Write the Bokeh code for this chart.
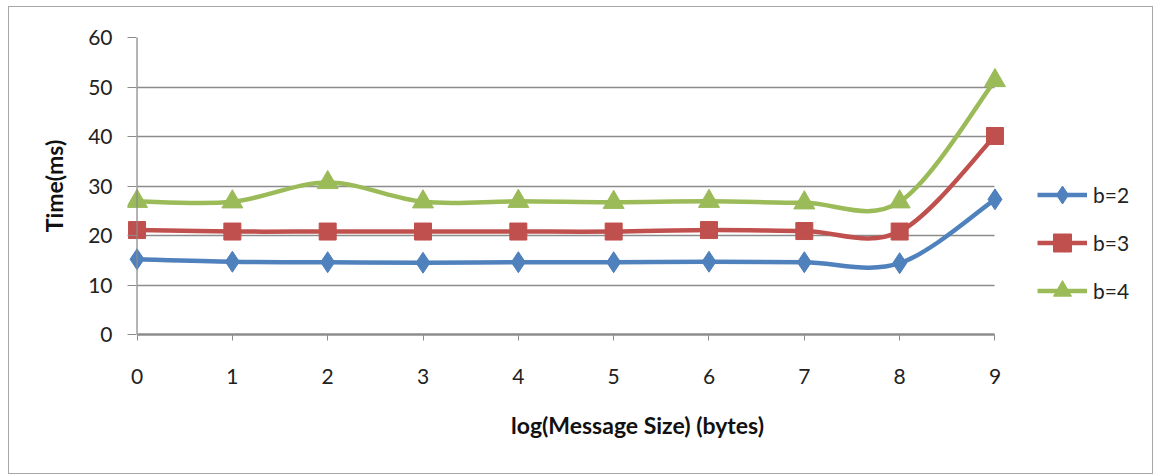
import numpy as np
from bokeh.plotting import figure
from bokeh.models import Range1d, FixedTicker, Legend, LegendItem, Span, Title
from bokeh.embed import file_html
from bokeh.resources import INLINE

# Message size exponent (x) and measured times in ms for each b
sizes = [0, 1, 2, 3, 4, 5, 6, 7, 8, 9]
b2 = [15.2, 14.7, 14.6, 14.5, 14.6, 14.6, 14.7, 14.6, 14.4, 27.3]
b3 = [21.1, 20.8, 20.8, 20.8, 20.8, 20.8, 21.1, 20.9, 20.8, 40.1]
b4 = [26.9, 26.8, 30.7, 26.8, 26.9, 26.7, 26.9, 26.6, 26.8, 51.3]
series_names = ["b=2", "b=3", "b=4"]
colors = ["#4F81BD", "#C0504D", "#9BBB59"]
markers = ["diamond", "square", "triangle"]
marker_sizes = [21, 17, 21]
y_ticks = [0, 10, 20, 30, 40, 50, 60]

FONT = "Lato"
GRID = "#8C8C8C"
PAD_LEFT = 0.1     # room for the first markers left of the y axis
RANGE_END = 10.6   # frame continues to the right so the legend sits inside it


def smooth_segments(xs, ys):
    """Cubic Bezier segments through the points (Catmull-Rom style smoothing)."""
    x = np.asarray(xs, dtype=float)
    y = np.asarray(ys, dtype=float)
    n = len(x)
    xp = np.concatenate([[x[0]], x, [x[-1]]])
    yp = np.concatenate([[y[0]], y, [y[-1]]])
    i = np.arange(n - 1)
    cx0 = x[i] + (xp[i + 2] - xp[i]) / 6.0
    cy0 = y[i] + (yp[i + 2] - yp[i]) / 6.0
    cx1 = x[i + 1] - (xp[i + 3] - xp[i + 1]) / 6.0
    cy1 = y[i + 1] - (yp[i + 3] - yp[i + 1]) / 6.0
    return dict(x0=x[i], y0=y[i], x1=x[i + 1], y1=y[i + 1],
                cx0=cx0, cy0=cy0, cx1=cx1, cy1=cy1)


p = figure(width=1145, height=468, output_backend="svg", toolbar_location=None,
           x_range=Range1d(sizes[0] - PAD_LEFT, RANGE_END),
           y_range=Range1d(y_ticks[0], y_ticks[-1]),
           min_border_left=118, min_border_right=7,
           min_border_top=30, min_border_bottom=141)
p.margin = (6, 0, 0, 8)
p.styles = {"border": "1px solid #A6A6A6", "box-sizing": "border-box"}
p.outline_line_color = None
p.background_fill_color = "white"
p.border_fill_color = "white"

# horizontal grid, only across the data span
p.xgrid.grid_line_color = None
p.ygrid.ticker = FixedTicker(ticks=y_ticks)
p.ygrid.cross_bounds = (sizes[0], sizes[-1])
p.ygrid.grid_line_color = GRID
p.ygrid.grid_line_width = 1.3

# vertical axis line at x = 0
p.add_layout(Span(location=sizes[0], dimension="height",
                  line_color=GRID, line_width=1.3))

items = []
for name, ys, col, mk, ms in zip(series_names, [b2, b3, b4], colors, markers, marker_sizes):
    seg = smooth_segments(sizes, ys)
    r_line = p.bezier(line_color=col, line_width=4.5, **seg)
    r_mk = p.scatter(sizes, ys, marker=mk, size=ms, fill_color=col, line_color=col)
    items.append(LegendItem(label=name, renderers=[r_line, r_mk]))

legend = Legend(items=items, location=(910, 21), orientation="vertical",
                glyph_width=50, glyph_height=45, label_standoff=6, spacing=3,
                padding=0, margin=0, border_line_color=None,
                background_fill_alpha=0,
                label_text_font=FONT, label_text_font_size="21px",
                label_text_color="#222222")
p.add_layout(legend)

# y axis: ticks reach from the frame edge to the axis line at x = 0
p.yaxis.ticker = FixedTicker(ticks=y_ticks)
p.yaxis.minor_tick_line_color = None
p.yaxis.major_tick_out = 0
p.yaxis.major_tick_in = 9
p.yaxis.axis_line_color = None
p.yaxis.major_tick_line_color = GRID
p.yaxis.major_label_standoff = 15
p.yaxis.major_label_text_font = FONT
p.yaxis.major_label_text_font_size = "21px"
p.yaxis.major_label_text_color = "#222222"
p.yaxis.axis_label = "Time(ms)"
p.yaxis.axis_label_text_font = FONT
p.yaxis.axis_label_text_font_size = "23px"
p.yaxis.axis_label_text_font_style = "bold"
p.yaxis.axis_label_text_color = "#111111"
p.yaxis.axis_label_standoff = 17

# x axis
p.xaxis.bounds = (sizes[0], sizes[-1])
p.xaxis.ticker = FixedTicker(ticks=sizes)
p.xaxis.minor_tick_line_color = None
p.xaxis.major_tick_out = 6
p.xaxis.major_tick_in = 0
p.xaxis.axis_line_color = GRID
p.xaxis.axis_line_width = 2.5
p.xaxis.major_tick_line_color = GRID
p.xaxis.major_label_standoff = 28
p.xaxis.major_label_text_font = FONT
p.xaxis.major_label_text_font_size = "21px"
p.xaxis.major_label_text_color = "#222222"

# x axis title, centred under the 0..9 span rather than the whole frame
x_title = Title(text="log(Message Size) (bytes)", align="center", offset=-72,
                standoff=45, text_font=FONT, text_font_size="23px",
                text_font_style="bold", text_color="#111111")
p.add_layout(x_title, "below")

open("out.html", "w").write(file_html(p, INLINE))
